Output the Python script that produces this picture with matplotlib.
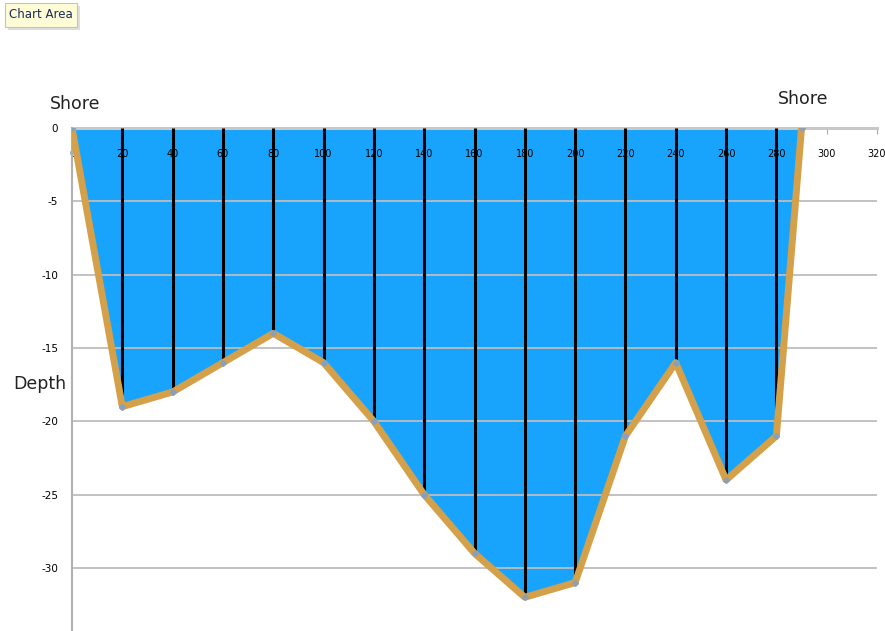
import matplotlib
matplotlib.use("Agg")
import matplotlib.pyplot as plt
from matplotlib.patches import FancyBboxPatch

distance = [0, 20, 40, 60, 80, 100, 120, 140, 160, 180, 200, 220, 240, 260, 280, 290]
depth = [0, -19, -18, -16, -14, -16, -20, -25, -29, -32, -31, -21, -16, -24, -21, 0]
x_ticks = list(range(0, 321, 20))
y_ticks = [0, -5, -10, -15, -20, -25, -30]

fig = plt.figure(figsize=(8.85, 6.31), dpi=100)
ax = fig.add_axes([72/885, 0, (877-72)/885, (631-128)/631])
ax.set_xlim(0, 320)
ax.set_ylim(-34.3, 0)

# water fill
ax.fill_between(distance, depth, 0, color="#18A4FC", zorder=1, linewidth=0)

# grid lines
for yt in y_ticks[1:]:
    ax.axhline(yt, color="#BDBDBD", lw=1.3, zorder=1.5)

# vertical sounding lines
for xv, dv in zip(distance[1:-1], depth[1:-1]):
    ax.plot([xv, xv], [0, dv], color="black", lw=2.2, zorder=2, solid_capstyle="butt")

# bottom profile
ax.plot(distance, depth, color="#D4A04A", lw=5, zorder=3, solid_joinstyle="round",
        marker="D", markersize=3, markerfacecolor="#8AA0B8", markeredgecolor="#8AA0B8")

# axes styling
ax.spines["top"].set_visible(False)
ax.spines["right"].set_visible(False)
ax.spines["bottom"].set_position(("data", 0))
ax.spines["bottom"].set_color("#C8C8C8")
ax.spines["bottom"].set_linewidth(2.2)
ax.spines["bottom"].set_zorder(1.6)
ax.spines["left"].set_color("#B0B0B0")
ax.spines["left"].set_linewidth(1.5)

ax.set_xticks(x_ticks)
ax.set_xticklabels([str(v) for v in x_ticks], fontsize=7)
ax.tick_params(axis="x", direction="out", length=4, color="#AAAAAA", pad=11)
ax.set_yticks(y_ticks)
ax.set_yticklabels([str(v) for v in y_ticks], fontsize=7.5)
ax.tick_params(axis="y", length=0, pad=10)
for lbl in ax.get_xticklabels():
    lbl.set_zorder(4)

ax.patch.set_visible(False)

fig.text(75/885, 1 - 104/631, "Shore", fontsize=12.5, ha="center", va="center", color="#222222")
fig.text(803/885, 1 - 99/631, "Shore", fontsize=12.5, ha="center", va="center", color="#222222")
fig.text(40/885, 1 - 384/631, "Depth", fontsize=12.5, ha="center", va="center", color="#222222")

# "Chart Area" tooltip with shadow
shadow = FancyBboxPatch((8/885, 1 - 30/631), 72/885, 24/631, boxstyle="square,pad=0",
                        transform=fig.transFigure, facecolor="#D0D0D0", edgecolor="none",
                        alpha=0.7, zorder=5)
box = FancyBboxPatch((5/885, 1 - 27/631), 72/885, 24/631, boxstyle="square,pad=0",
                     transform=fig.transFigure, facecolor="#FDFCD6", edgecolor="#C8C8A0",
                     lw=0.8, zorder=6)
fig.patches.extend([shadow, box])
fig.text(41/885, 1 - 15/631, "Chart Area", fontsize=8.5, ha="center", va="center",
         color="#1A2A5A", zorder=7)

fig.savefig("out.png", dpi=100)
